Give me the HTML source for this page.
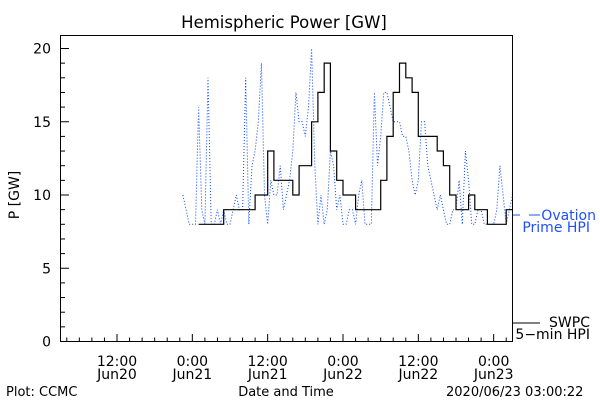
<!DOCTYPE html>
<html><head><meta charset="utf-8"><style>
body{margin:0;background:#fff}
svg text{font-family:"DejaVu Sans","Liberation Sans",sans-serif;font-size:13px}
</style></head><body>
<svg id="chart" width="600" height="400" viewBox="0 0 600 400" xmlns="http://www.w3.org/2000/svg">
<text x="284" y="28" text-anchor="middle" style="font-size:16.5px">Hemispheric Power [GW]</text>
<rect x="60.5" y="35.5" width="452" height="306" fill="none" stroke="#000" stroke-width="1"/>
<text transform="translate(19,195) rotate(-90)" text-anchor="middle" style="font-size:14px">P [GW]</text>
<g id="yaxis"></g>
<g id="xaxis"></g>
<g id="series"></g>
<g>
<line x1="513" y1="215" x2="520" y2="215" stroke="#1e50ff"/>
<line x1="529" y1="215" x2="540" y2="215" stroke="#1e50ff"/>
<text x="596" y="220" text-anchor="end" fill="#1e50ff" style="font-size:14px">Ovation</text>
<text x="590" y="232" text-anchor="end" fill="#1e50ff" style="font-size:14px">Prime HPI</text>
</g>
<g>
<line x1="513" y1="323" x2="540" y2="323" stroke="#000"/>
<text x="590" y="327" text-anchor="end" style="font-size:14px">SWPC</text>
<text x="590" y="339" text-anchor="end" style="font-size:14px">5−min HPI</text>
</g>
<text x="286" y="396" text-anchor="middle">Date and Time</text>
<text x="6" y="396">Plot: CCMC</text>
<text x="446" y="396">2020/06/23 03:00:22</text>
</svg>
<script>
const yTicks=[0,5,10,15,20];
const xTickHours=[9,21,33,45,57,69];
const xTickTimes=["12:00","0:00","12:00","0:00","12:00","0:00"];
const xTickDates=["Jun20","Jun21","Jun21","Jun22","Jun22","Jun23"];
const blackStart=22;
const blackValues=[8,8,8,8,9,9,9,9,9,10,10,13,11,11,11,10,12,12,15,17,19,13,11,10,10,9,9,9,9,11,14,17,19,18,17,14,14,14,13,12,10,9,9,10,9,9,8,8,8,9,9];
const blueStart=19.5;
const blueValues=[10,9,8,8,8,16,9,8,18,8,8,9,8,9,8,8,9,10,9,9,18,8,12,13,15,19,10,8,11,10,10,12,9,10,11,13,17,15,15,14,16,20,12,8,10,8,9,13,12,9,10,8,8,9,9,8,10,11,8,8,8,17,12,14,17,17,16,15,15,15,14,14,13,11,10,11,15,15,12,11,10,9,10,9,8,8,9,9,11,8,13,11,8,8,9,9,8,8,8,8,9,12,10,8,9,10];
const NS="http://www.w3.org/2000/svg";
const X=h=>60.5+h*452/72;
const Y=v=>341.5-v*14.65;
function mk(tag,attrs,parent){const e=document.createElementNS(NS,tag);for(const k in attrs)e.setAttribute(k,attrs[k]);parent.appendChild(e);return e;}
const ya=document.getElementById('yaxis');
for(let v=0;v<=20;v++){
  const l=mk('line',{x1:60.5,x2:(v%5==0?69:65),y1:Y(v),y2:Y(v),stroke:'#000'},ya);
  
  
}
yTicks.forEach(v=>{
  const t=mk('text',{x:51,y:Y(v)+5,'text-anchor':'end',style:'font-size:14px'},ya);t.textContent=v;
  
  
});
const xa=document.getElementById('xaxis');
for(let h=1;h<72;h+=2){
  const major=xTickHours.includes(h);
  const l=mk('line',{x1:X(h),x2:X(h),y1:341.5,y2:major?334:337.5,stroke:'#000'},xa);
  
  
}
xTickHours.forEach((h,i)=>{
  const t=mk('text',{x:X(h),y:366,'text-anchor':'middle',style:'font-size:14px'},xa);t.textContent=xTickTimes[i];
  
  
  const d=mk('text',{x:X(h),y:379,'text-anchor':'middle',style:'font-size:14px'},xa);d.textContent=xTickDates[i];
  
  
});
const sg=document.getElementById('series');
let bp=blueValues.map((v,i)=>X(blueStart+i*0.5).toFixed(1)+','+Y(v).toFixed(1)).join(' ');
const blue=mk('polyline',{points:bp,fill:'none',stroke:'#0040ff','stroke-width':1,'stroke-dasharray':'1 2'},sg);


let pts=[];
blackValues.forEach((v,i)=>{const h=blackStart+i;pts.push(X(h).toFixed(1)+','+Y(v).toFixed(1));pts.push(Math.min(X(h+1),512).toFixed(1)+','+Y(v).toFixed(1));});
const black=mk('polyline',{points:pts.join(' '),fill:'none',stroke:'#000','stroke-width':1.2},sg);


</script>
</body></html>
